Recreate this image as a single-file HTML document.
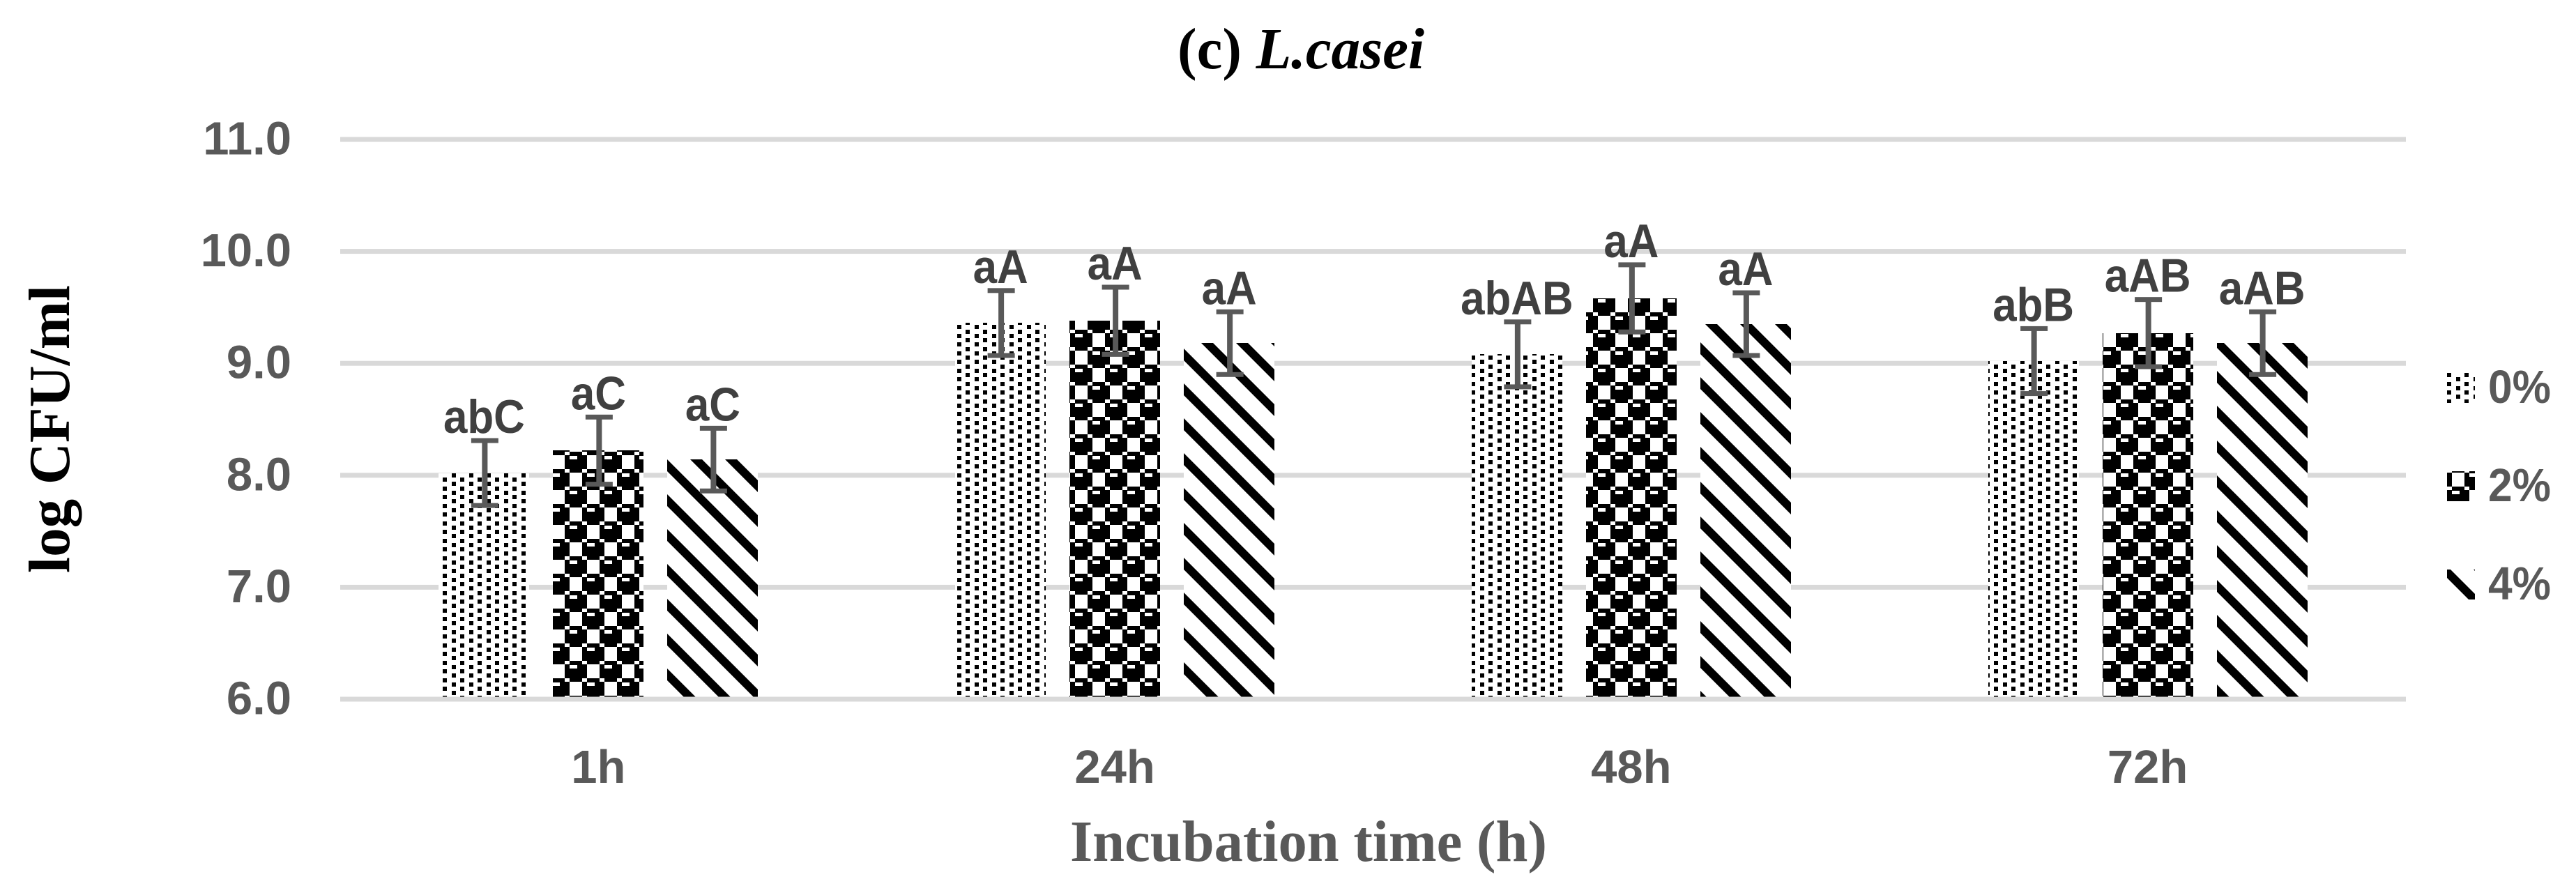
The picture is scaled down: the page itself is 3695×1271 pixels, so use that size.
<!DOCTYPE html>
<html lang="en">
<head>
<meta charset="utf-8">
<title>(c) L.casei</title>
<style>
html,body{margin:0;padding:0;background:#fff;width:3695px;height:1271px;overflow:hidden}
svg{display:block}
.sans{font-family:"Liberation Sans",sans-serif;font-weight:700}
.serif{font-family:"Liberation Serif",serif;font-weight:700}
</style>
</head>
<body>
<svg id="chart" xmlns="http://www.w3.org/2000/svg" width="3695" height="1271" viewBox="0 0 3695 1271">
  <defs>
    <pattern id="pat-0" patternUnits="userSpaceOnUse" width="25" height="25" patternTransform="translate(7,10)">
      <rect width="25" height="25" fill="#fff"/>
      <g fill="#000" shape-rendering="crispEdges">
        <rect x="3" y="0" width="6" height="6"/>
        <rect x="3" y="13" width="6" height="6"/>
        <rect x="16" y="6" width="6" height="6"/>
        <rect x="16" y="19" width="6" height="6"/>
      </g>
    </pattern>
    <pattern id="pat-2" patternUnits="userSpaceOnUse" width="50" height="50" patternTransform="translate(10,3)">
      <rect width="50" height="50" fill="#fff"/>
      <g fill="#000" shape-rendering="crispEdges">
        <rect x="0" y="0" width="32" height="20"/>
        <rect x="0" y="20" width="50" height="5"/>
        <rect x="25" y="25" width="25" height="20"/>
        <rect x="0" y="25" width="7" height="20"/>
        <rect x="0" y="45" width="50" height="5"/>
      </g>
      <g fill="#fff" shape-rendering="crispEdges">
        <rect x="7" y="1" width="11" height="5"/>
        <rect x="32" y="26" width="11" height="5"/>
        <rect x="0" y="20" width="7" height="5"/>
        <rect x="25" y="20" width="7" height="5"/>
        <rect x="0" y="45" width="7" height="5"/>
        <rect x="25" y="45" width="7" height="5"/>
      </g>
    </pattern>
    <pattern id="pat-4" patternUnits="userSpaceOnUse" width="50" height="50">
      <rect width="50" height="50" fill="#fff"/>
      <path fill="#000" d="M31 0H48L98 50H81ZM-19 0H-2L48 50H31Z"/>
    </pattern>
  </defs>
  <g id="grid"></g>
  <g id="ticks"></g>
  <g id="bars"></g>
  <g id="errors"></g>
  <g id="labels"></g>
  <g id="cats"></g>
  <g id="legend"></g>
  <text class="serif" x="1689" y="98" font-size="84" fill="#000" textLength="354" lengthAdjust="spacingAndGlyphs">(c) <tspan font-style="italic">L.casei</tspan></text>
  <text class="serif" transform="translate(99,822) rotate(-90)" font-size="84" fill="#000" textLength="413" lengthAdjust="spacingAndGlyphs">log CFU/ml</text>
  <text class="serif" x="1535" y="1235" font-size="84" fill="#595959" textLength="684" lengthAdjust="spacingAndGlyphs">Incubation time (h)</text>
</svg>
<script>
const categories = ['1h', '24h', '48h', '72h'];
const seriesNames = ['0%', '2%', '4%'];
const values0 = [8.02, 9.36, 9.08, 9.02];
const values2 = [8.22, 9.38, 9.58, 9.27];
const values4 = [8.14, 9.18, 9.35, 9.18];
const errors0 = [0.29, 0.29, 0.29, 0.29];
const errors2 = [0.30, 0.30, 0.30, 0.30];
const errors4 = [0.28, 0.28, 0.28, 0.28];
const labels0 = ['abC', 'aA', 'abAB', 'abB'];
const labels2 = ['aC', 'aA', 'aA', 'aAB'];
const labels4 = ['aC', 'aA', 'aA', 'aAB'];
const yTicks = [6, 7, 8, 9, 10, 11];
const yTickLabels = ['6.0', '7.0', '8.0', '9.0', '10.0', '11.0'];

const seriesValues = [values0, values2, values4];
const seriesErrors = [errors0, errors2, errors4];
const seriesLabels = [labels0, labels2, labels4];
const seriesFills = ['url(#pat-0)', 'url(#pat-2)', 'url(#pat-4)'];

const NS = 'http://www.w3.org/2000/svg';
const plotLeft = 488, plotRight = 3451, baseY = 1003, unitPx = 160.6;
const barWidth = 130, barStep = 164;

function yScale(v) { return baseY - (v - 6) * unitPx; }
function groupCenter(i) { return plotLeft + (plotRight - plotLeft) / categories.length * (i + 0.5); }
function barCenter(i, s) { return groupCenter(i) + (s - 1) * barStep; }
function node(parentId, tag, props, text) {
  const el = document.createElementNS(NS, tag);
  for (const k in props) el.setAttribute(k, props[k]);
  if (text !== undefined) el.textContent = text;
  document.getElementById(parentId).appendChild(el);
  return el;
}
function gridLine(parentId, v) {
  return node(parentId, 'rect', {x: plotLeft, y: yScale(v) - 3.5, width: plotRight - plotLeft, height: 7, fill: '#d9d9d9'});
}

yTicks.forEach(function (t, k) {
  const line = gridLine('grid', t);
  
  
  const lab = node('ticks', 'text', {x: 418, y: yScale(t) + 21.5, 'text-anchor': 'end', 'font-size': 67, fill: '#595959', 'class': 'sans'}, yTickLabels[k]);
  
  
});

categories.forEach(function (cat, i) {
  const lab = node('cats', 'text', {x: groupCenter(i), y: 1123, 'text-anchor': 'middle', 'font-size': 67, fill: '#595959', 'class': 'sans'}, cat);
  
  

  seriesValues.forEach(function (vals, s) {
    const cx = barCenter(i, s), v = vals[i], e = seriesErrors[s][i];
    const top = Math.round(yScale(v));
    const bar = node('bars', 'rect', {x: Math.round(cx - barWidth / 2), y: top, width: barWidth, height: baseY - top, fill: seriesFills[s], 'shape-rendering': 'crispEdges'});
    
    

    const hi = yScale(v + e), lo = yScale(v - e);
    const stem = node('errors', 'rect', {x: cx - 4 + 1, y: hi, width: 8, height: lo - hi, fill: '#595959'});
    
    
    const capTop = node('errors', 'rect', {x: cx - 19.5 + 1, y: hi - 3.5, width: 39, height: 7, fill: '#595959'});
    
    
    const capBottom = node('errors', 'rect', {x: cx - 19.5 + 1, y: lo - 3.5, width: 39, height: 7, fill: '#595959'});
    
    

    const txt = node('labels', 'text', {transform: 'translate(' + cx + ',' + (hi - 11) + ') scale(0.91,1)', 'text-anchor': 'middle', 'font-size': 68, fill: '#404040', 'class': 'sans'}, seriesLabels[s][i]);
    
    
  });
});

const baseLine = gridLine('bars', yTicks[0]);



seriesNames.forEach(function (name, s) {
  const rowY = 535 + s * 141;
  const swatch = node('legend', 'rect', {x: 3510, y: rowY, width: 40, height: 43, fill: seriesFills[s], 'shape-rendering': 'crispEdges'});
  
  
  const lab = node('legend', 'text', {x: 3569, y: rowY + 43, 'font-size': 67, fill: '#595959', 'class': 'sans', textLength: 90, lengthAdjust: 'spacingAndGlyphs'}, name);
  
  
});
</script>
</body>
</html>
